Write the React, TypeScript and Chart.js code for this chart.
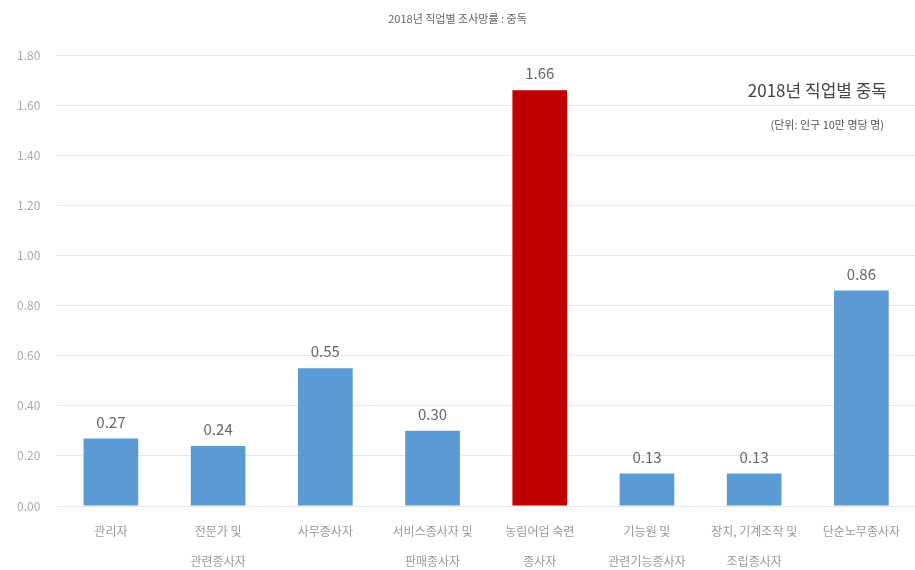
import React, { useEffect, useRef } from "react";
import { Chart, registerables } from "chart.js";

Chart.register(...registerables);

const chartTitle = "2018년 직업별 조사망률 : 중독";
const annotationTitle = "2018년 직업별 중독";
const annotationUnit = "(단위: 인구 10만 명당 명)";
const categories: string[][] = [
  ["관리자"],
  ["전문가 및", "관련종사자"],
  ["사무종사자"],
  ["서비스종사자 및", "판매종사자"],
  ["농림어업 숙련", "종사자"],
  ["기능원 및", "관련기능종사자"],
  ["장치, 기계조작 및", "조립종사자"],
  ["단순노무종사자"],
];
const values = [0.27, 0.24, 0.55, 0.3, 1.66, 0.13, 0.13, 0.86];
const highlightIndex = 4;
const yMin = 0;
const yMax = 1.8;
const yStep = 0.2;

const FONT = "'Noto Sans CJK KR', 'Noto Sans', sans-serif";

export default function App() {
  const ref = useRef<HTMLCanvasElement | null>(null);
  useEffect(() => {
    document.body.style.margin = "0";
    document.body.style.overflow = "hidden";
    const canvas = ref.current;
    if (!canvas) return;

    const labelPlugin = {
      id: "labels",
      afterDatasetsDraw(chart: any) {
        const ctx = chart.ctx;
        const meta = chart.getDatasetMeta(0);
        ctx.save();
        ctx.font = `15px ${FONT}`;
        ctx.fillStyle = "#666";
        ctx.textAlign = "center";
        ctx.textBaseline = "bottom";
        meta.data.forEach((bar: any, i: number) => {
          ctx.fillText(values[i].toFixed(2), bar.x, bar.y - 9);
        });
        ctx.restore();
      },
      afterDraw(chart: any) {
        const ctx = chart.ctx;
        const area = chart.chartArea;
        ctx.save();
        ctx.textAlign = "right";
        ctx.textBaseline = "middle";
        ctx.fillStyle = "#444";
        ctx.font = `17px ${FONT}`;
        ctx.fillText(annotationTitle, area.right - 28, 91);
        ctx.fillStyle = "#555";
        ctx.font = `11px ${FONT}`;
        ctx.fillText(annotationUnit, area.right - 31, 125);
        ctx.restore();
      },
    };

    const chart = new Chart(canvas, {
      type: "bar",
      data: {
        labels: categories,
        datasets: [
          {
            data: values,
            backgroundColor: values.map((_, i) =>
              i === highlightIndex ? "#C00000" : "#5B9BD5"
            ),
            barPercentage: 0.51,
            categoryPercentage: 1,
          },
        ],
      },
      options: {
        responsive: false,
        animation: false,
        layout: { padding: { left: 0, right: 0, top: 0, bottom: 0 } },
        plugins: {
          legend: { display: false },
          tooltip: { enabled: false },
          title: {
            display: true,
            text: chartTitle,
            color: "#666",
            font: { family: FONT, size: 11, weight: "normal" },
            padding: { top: 12, bottom: 30 },
          },
        },
        scales: {
          x: {
            grid: { display: false },
            border: { display: false },
            ticks: {
              color: "#999",
              font: { family: FONT, size: 12, lineHeight: 2.5 },
              padding: 2,
              maxRotation: 0,
              autoSkip: false,
            },
          },
          y: {
            min: yMin,
            max: yMax,
            border: { display: false },
            grid: { color: "#e6e6e6", drawTicks: false },
            ticks: {
              stepSize: yStep,
              color: "#aaa",
              font: { family: FONT, size: 12 },
              padding: 17,
              callback: (v: any) => Number(v).toFixed(2),
            },
          },
        },
      },
      plugins: [labelPlugin],
    });
    return () => chart.destroy();
  }, []);
  return <canvas ref={ref} width={915} height={578} style={{ display: "block" }} />;
}
